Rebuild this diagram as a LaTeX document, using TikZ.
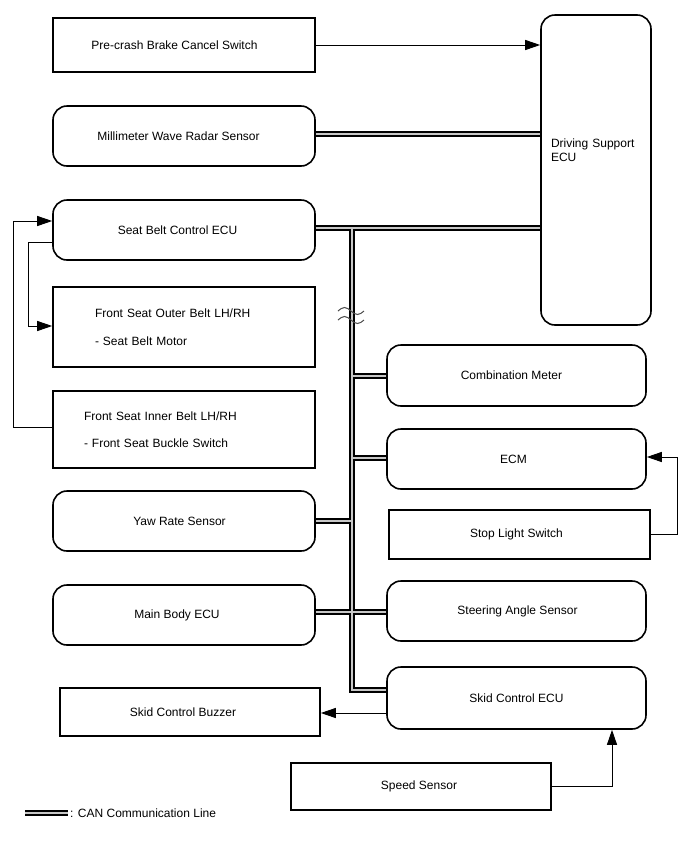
\documentclass[tikz,border=0pt]{standalone}
\usepackage{fontspec}
\setmainfont{Liberation Sans}
\usetikzlibrary{arrows.meta}
\newcommand\shtxt[2]{\makebox[0pt]{\kern#1pt\kern#1pt\relax #2}}
\begin{document}
\begin{tikzpicture}[x=1pt,y=-1pt,
  font=\fontsize{12}{14}\selectfont,
  boxbase/.style={draw=black, line width=1.6pt, fill=white, inner sep=0pt, align=center},
  rbox/.style={boxbase, rounded corners=14pt},
  sbox/.style={boxbase},
  arr/.style={draw=black, line width=1pt, -{Triangle[length=15pt,width=10pt]}},
  canout/.style={draw=black, line width=5.4pt},
  canin/.style={draw=black!22, line width=2.6pt},
  brk/.style={draw=black!70, line width=1pt}
]
\useasboundingbox (0,0) rectangle (688,852);

% left column
\node[sbox, minimum width=262pt, minimum height=54pt] (pcb) at (184,45) {\shtxt{-9.5}{Pre-crash Brake Cancel Switch}};
\node[rbox, minimum width=262pt, minimum height=60pt] (mwr) at (184,136) {\shtxt{-5.5}{Millimeter Wave Radar Sensor}};
\node[rbox, minimum width=262pt, minimum height=60pt] (sbc) at (184,230) {\shtxt{-6.5}{Seat Belt Control ECU}};
\node[sbox, minimum width=262pt, minimum height=80pt, text width=178pt, align=left,
      font=\fontsize{12}{28}\selectfont] (fso) at (184,327) {Front Seat Outer Belt LH/RH\\- Seat Belt Motor};
\node[sbox, minimum width=262pt, minimum height=77pt, text width=200pt, align=left,
      font=\fontsize{12}{27}\selectfont] (fsi) at (184,429.5) {Front Seat Inner Belt LH/RH\\- Front Seat Buckle Switch};
\node[rbox, minimum width=262pt, minimum height=60pt] (yrs) at (184,521) {\shtxt{-4.5}{Yaw Rate Sensor}};
\node[rbox, minimum width=262pt, minimum height=60pt] (mbe) at (184,615) {\shtxt{-7}{Main Body ECU}};
\node[sbox, minimum width=260pt, minimum height=48pt] (scb) at (190,712) {\shtxt{-7}{Skid Control Buzzer}};

% right column
\node[rbox, minimum width=110pt, minimum height=310pt, text width=90pt, align=left] (dse) at (596,170) {Driving Support\\ECU\\[26pt]\mbox{}};
\node[rbox, minimum width=259pt, minimum height=61pt] (cm) at (516.5,375.5) {\shtxt{-5}{Combination Meter}};
\node[rbox, minimum width=259pt, minimum height=60pt] (ecm) at (516.5,459) {\shtxt{-3}{ECM}};
\node[sbox, minimum width=261pt, minimum height=49pt] (sls) at (519.5,534.5) {\shtxt{-3}{Stop Light Switch}};
\node[rbox, minimum width=259pt, minimum height=60pt] (sas) at (516.5,611) {\shtxt{1}{Steering Angle Sensor}};
\node[rbox, minimum width=259pt, minimum height=62pt] (sce) at (516.5,698) {Skid Control ECU};
\node[sbox, minimum width=260pt, minimum height=47pt] (ss) at (421,786.5) {\shtxt{-2}{Speed Sensor}};

% bus coordinates
\coordinate (bt) at (352,228);
\coordinate (bb) at (352,690);
\coordinate (bcm) at (352,376);
\coordinate (becm) at (352,458);
\coordinate (byrs) at (352,521);
\coordinate (bmb) at (352,612);
\coordinate (lg1) at (25,813);
\coordinate (lg2) at (68,813);

% CAN lines: black pass then grey core
\foreach \s in {canout, canin}{
  \draw[\s] (mwr.east |- 0,134) -- (dse.west |- 0,134);
  \draw[\s] (sbc.east |- bt) -- (dse.west |- bt);
  \draw[\s] (bt) -- (bb) -- (sce.west |- bb);
  \draw[\s] (bcm) -- (cm.west |- bcm);
  \draw[\s] (becm) -- (ecm.west |- becm);
  \draw[\s] (yrs.east |- byrs) -- (byrs);
  \draw[\s] (mbe.east |- bmb) -- (sas.west |- bmb);
  \draw[\s] (lg1) -- (lg2);
}

% break symbol
\draw[brk] (338,311) sin (344.5,307.5) cos (351,311) sin (357.5,314.5) cos (364,311);
\draw[brk] (338,320) sin (344.5,316.5) cos (351,320) sin (357.5,323.5) cos (364,320);

% arrows
\draw[arr] (pcb.east) -- (pcb.east -| dse.west);
\coordinate (la) at (13,221);
\coordinate (lb) at (28,242);
\draw[arr] (fsi.west |- 0,427) -| (la) -- (sbc.west |- la);
\draw[arr] (sbc.west |- lb) -| (lb |- 0,326) -- (fso.west |- 0,326);
\coordinate (ra) at (677,457);
\draw[arr] (sls.east) -| (ra) -- (ecm.east |- ra);
\draw[arr] (sce.west |- 0,713) -- (scb.east |- 0,713);
\coordinate (sa) at (612,786.5);
\draw[arr] (ss.east) -- (sa) -- (sa |- sce.south);

% legend
\node[anchor=west, inner sep=0pt] (lgt) at (70,813) {: CAN Communication Line};
\end{tikzpicture}
\end{document}
